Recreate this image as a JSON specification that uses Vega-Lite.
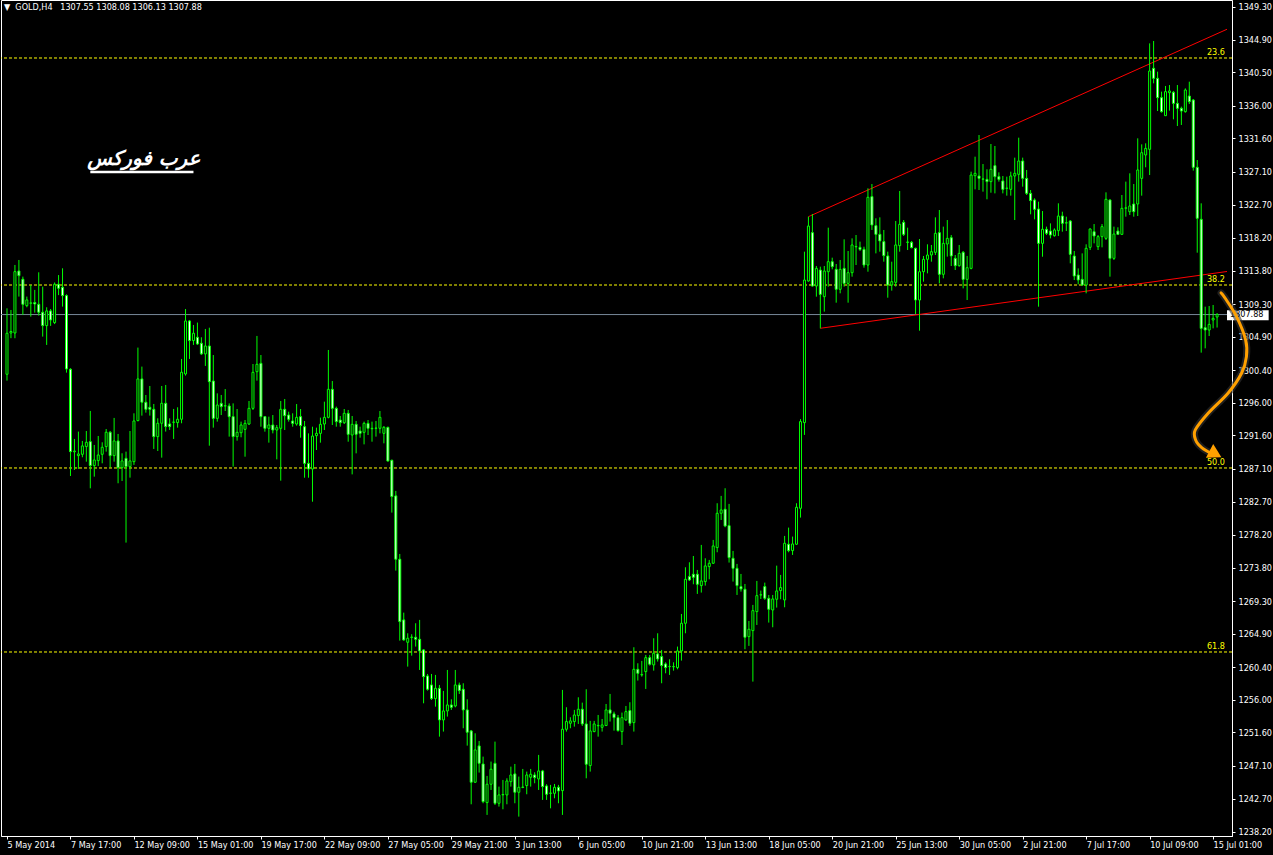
{
"$schema":"https://vega.github.io/schema/vega-lite/v6.json",
"width":1231,"height":836,
"autosize":{"type":"none"},
"padding":{"left":1,"top":0,"right":41,"bottom":19},
"background":"black",
"config":{"view":{"stroke":"white","strokeWidth":1,"fill":"black"},"font":"DejaVu Sans Condensed, DejaVu Sans","axis":{"labelOverlap":false,"labelBound":false,"labelFlush":false,"grid":false}},
"title":{"text":"▼\u00a0\u00a0GOLD,H4\u00a0\u00a0\u00a01307.55 1308.08 1306.13 1307.88","anchor":"start","frame":"group","orient":"top","offset":-12,"color":"white","fontSize":9,"fontWeight":"normal","font":"DejaVu Sans Condensed, DejaVu Sans","dx":3},
"datasets":{
"bars":[
{"i":0,"o":1299.84,"h":1308.72,"l":1298.98,"c":1305.36},
{"i":1,"o":1305.4,"h":1308.5,"l":1304.7,"c":1305.6},
{"i":2,"o":1305.4,"h":1314.56,"l":1304.69,"c":1313.66},
{"i":3,"o":1313.75,"h":1315.23,"l":1310.3,"c":1313.12},
{"i":4,"o":1312.63,"h":1312.99,"l":1307.83,"c":1309.26},
{"i":5,"o":1309.08,"h":1310.3,"l":1308.86,"c":1309.85},
{"i":6,"o":1309.4,"h":1311.87,"l":1307.6,"c":1309.45},
{"i":7,"o":1309.5,"h":1311.2,"l":1308.14,"c":1309.3},
{"i":8,"o":1309.26,"h":1313.57,"l":1307.74,"c":1308.19},
{"i":9,"o":1308.19,"h":1311.64,"l":1304.91,"c":1306.39},
{"i":10,"o":1306.39,"h":1308.86,"l":1303.79,"c":1308.37},
{"i":11,"o":1308.37,"h":1308.63,"l":1306.35,"c":1307.15},
{"i":12,"o":1306.8,"h":1312.2,"l":1306.6,"c":1311.96},
{"i":13,"o":1311.96,"h":1313.2,"l":1310.5,"c":1311.42},
{"i":14,"o":1311.55,"h":1314.11,"l":1308.95,"c":1310.43},
{"i":15,"o":1310.43,"h":1310.6,"l":1300.06,"c":1300.55},
{"i":16,"o":1300.51,"h":1300.65,"l":1286.14,"c":1289.42},
{"i":17,"o":1289.4,"h":1291.13,"l":1286.95,"c":1289.5},
{"i":18,"o":1288.88,"h":1292.12,"l":1287.09,"c":1289.11},
{"i":19,"o":1289.06,"h":1290.86,"l":1288.66,"c":1290.19},
{"i":20,"o":1290.1,"h":1292.2,"l":1288.07,"c":1290.68},
{"i":21,"o":1290.77,"h":1294.9,"l":1284.48,"c":1287.54},
{"i":22,"o":1287.54,"h":1290.32,"l":1286.05,"c":1288.3},
{"i":23,"o":1288.21,"h":1291.53,"l":1287.49,"c":1288.97},
{"i":24,"o":1289.06,"h":1290.68,"l":1287.85,"c":1290.01},
{"i":25,"o":1290.1,"h":1292.47,"l":1289.42,"c":1292.03},
{"i":26,"o":1292.03,"h":1292.2,"l":1287.27,"c":1288.88},
{"i":27,"o":1288.88,"h":1293.96,"l":1288.07,"c":1290.86},
{"i":28,"o":1290.86,"h":1291.8,"l":1285.16,"c":1287.27},
{"i":29,"o":1287.27,"h":1289.2,"l":1285.47,"c":1288.17},
{"i":30,"o":1288.52,"h":1289.42,"l":1277.17,"c":1287.4},
{"i":31,"o":1287.4,"h":1292.2,"l":1285.92,"c":1288.17},
{"i":32,"o":1288.07,"h":1294.58,"l":1287.63,"c":1293.55},
{"i":33,"o":1293.6,"h":1303.43,"l":1293.5,"c":1299.21},
{"i":34,"o":1299.21,"h":1300.87,"l":1294.27,"c":1296.07},
{"i":35,"o":1296.07,"h":1297.05,"l":1294.67,"c":1295.12},
{"i":36,"o":1295.39,"h":1298.26,"l":1294.27,"c":1295.12},
{"i":37,"o":1295.12,"h":1295.84,"l":1289.78,"c":1291.44},
{"i":38,"o":1291.44,"h":1293.91,"l":1289.51,"c":1293.24},
{"i":39,"o":1293.24,"h":1298.26,"l":1288.61,"c":1295.93},
{"i":40,"o":1295.93,"h":1298.4,"l":1292.12,"c":1292.79},
{"i":41,"o":1293.15,"h":1293.91,"l":1292.34,"c":1292.79},
{"i":42,"o":1293.37,"h":1295.17,"l":1291.13,"c":1293.4},
{"i":43,"o":1293.33,"h":1295.39,"l":1292.65,"c":1293.78},
{"i":44,"o":1293.78,"h":1301.9,"l":1293.24,"c":1300.11},
{"i":45,"o":1299.88,"h":1308.63,"l":1299.66,"c":1307.02},
{"i":46,"o":1307.02,"h":1307.15,"l":1301.9,"c":1304.37},
{"i":47,"o":1304.37,"h":1306.48,"l":1303.79,"c":1305.36},
{"i":48,"o":1304.82,"h":1306.8,"l":1303.79,"c":1303.92},
{"i":49,"o":1304.01,"h":1304.82,"l":1302.44,"c":1302.58},
{"i":50,"o":1302.58,"h":1305.94,"l":1300.96,"c":1303.65},
{"i":51,"o":1303.65,"h":1306.11,"l":1290.22,"c":1298.84},
{"i":52,"o":1298.93,"h":1302.43,"l":1292.65,"c":1293.9},
{"i":53,"o":1293.9,"h":1297.27,"l":1293.46,"c":1295.7},
{"i":54,"o":1295.92,"h":1297.05,"l":1294.35,"c":1295.48},
{"i":55,"o":1295.57,"h":1297.85,"l":1294.89,"c":1295.6},
{"i":56,"o":1295.57,"h":1295.92,"l":1291.44,"c":1294.13},
{"i":57,"o":1294.13,"h":1295.92,"l":1287.4,"c":1291.44},
{"i":58,"o":1291.44,"h":1295.16,"l":1290.9,"c":1292.02},
{"i":59,"o":1291.97,"h":1293.46,"l":1291.35,"c":1293.01},
{"i":60,"o":1292.42,"h":1293.68,"l":1288.74,"c":1293.23},
{"i":61,"o":1293.14,"h":1296.24,"l":1293.01,"c":1295.25},
{"i":62,"o":1295.25,"h":1301.22,"l":1295.03,"c":1300.1},
{"i":63,"o":1300.19,"h":1305.0,"l":1298.98,"c":1301.18},
{"i":64,"o":1301.31,"h":1302.43,"l":1292.78,"c":1294.13},
{"i":65,"o":1294.13,"h":1294.22,"l":1292.11,"c":1292.56},
{"i":66,"o":1292.56,"h":1294.13,"l":1290.63,"c":1293.01},
{"i":67,"o":1293.01,"h":1294.35,"l":1291.88,"c":1292.33},
{"i":68,"o":1292.33,"h":1293.01,"l":1288.38,"c":1292.65},
{"i":69,"o":1292.56,"h":1296.24,"l":1285.51,"c":1295.12},
{"i":70,"o":1295.12,"h":1296.51,"l":1292.33,"c":1294.26},
{"i":71,"o":1294.35,"h":1294.8,"l":1293.46,"c":1293.77},
{"i":72,"o":1293.55,"h":1294.58,"l":1292.78,"c":1293.23},
{"i":73,"o":1293.14,"h":1295.83,"l":1292.92,"c":1294.04},
{"i":74,"o":1294.13,"h":1295.16,"l":1291.3,"c":1292.92},
{"i":75,"o":1292.78,"h":1293.55,"l":1285.91,"c":1287.84},
{"i":76,"o":1287.84,"h":1291.88,"l":1285.91,"c":1287.08},
{"i":77,"o":1287.08,"h":1292.78,"l":1282.68,"c":1291.52},
{"i":78,"o":1291.57,"h":1292.65,"l":1289.64,"c":1291.88},
{"i":79,"o":1291.88,"h":1294.0,"l":1290.63,"c":1293.1},
{"i":80,"o":1293.14,"h":1296.15,"l":1292.33,"c":1294.04},
{"i":81,"o":1294.04,"h":1303.11,"l":1293.9,"c":1297.81},
{"i":82,"o":1297.81,"h":1298.93,"l":1293.01,"c":1295.25},
{"i":83,"o":1295.25,"h":1295.48,"l":1292.78,"c":1293.46},
{"i":84,"o":1293.68,"h":1294.22,"l":1292.78,"c":1293.32},
{"i":85,"o":1293.32,"h":1295.16,"l":1293.14,"c":1294.58},
{"i":86,"o":1294.58,"h":1295.03,"l":1290.76,"c":1291.75},
{"i":87,"o":1291.66,"h":1294.22,"l":1286.36,"c":1293.1},
{"i":88,"o":1293.1,"h":1293.55,"l":1289.19,"c":1291.75},
{"i":89,"o":1292.2,"h":1292.78,"l":1291.3,"c":1291.88},
{"i":90,"o":1292.02,"h":1293.46,"l":1290.4,"c":1293.23},
{"i":91,"o":1293.23,"h":1293.68,"l":1291.66,"c":1292.56},
{"i":92,"o":1292.56,"h":1293.46,"l":1290.76,"c":1292.5},
{"i":93,"o":1292.56,"h":1293.55,"l":1291.44,"c":1292.6},
{"i":94,"o":1292.56,"h":1294.89,"l":1291.88,"c":1294.04},
{"i":95,"o":1291.88,"h":1292.87,"l":1290.54,"c":1292.69},
{"i":96,"o":1292.69,"h":1292.78,"l":1288.07,"c":1288.16},
{"i":97,"o":1288.25,"h":1288.35,"l":1281.21,"c":1283.37},
{"i":98,"o":1283.46,"h":1284.13,"l":1273.4,"c":1274.93},
{"i":99,"o":1274.93,"h":1275.64,"l":1263.97,"c":1266.53},
{"i":100,"o":1266.76,"h":1267.74,"l":1263.97,"c":1264.06},
{"i":101,"o":1263.75,"h":1264.96,"l":1260.47,"c":1264.29},
{"i":102,"o":1264.4,"h":1264.83,"l":1261.95,"c":1264.45},
{"i":103,"o":1264.42,"h":1266.31,"l":1263.17,"c":1264.15},
{"i":104,"o":1264.15,"h":1266.76,"l":1260.02,"c":1262.58},
{"i":105,"o":1262.72,"h":1262.8,"l":1255.53,"c":1259.12},
{"i":106,"o":1259.21,"h":1259.48,"l":1257.24,"c":1257.42},
{"i":107,"o":1258.0,"h":1259.48,"l":1255.98,"c":1256.16},
{"i":108,"o":1256.16,"h":1259.35,"l":1255.08,"c":1257.55},
{"i":109,"o":1257.55,"h":1258.0,"l":1251.04,"c":1253.29},
{"i":110,"o":1253.29,"h":1257.2,"l":1251.72,"c":1254.5},
{"i":111,"o":1254.5,"h":1260.02,"l":1253.74,"c":1255.31},
{"i":112,"o":1255.31,"h":1256.07,"l":1254.64,"c":1254.99},
{"i":113,"o":1255.17,"h":1260.02,"l":1254.99,"c":1258.0},
{"i":114,"o":1258.0,"h":1258.32,"l":1256.79,"c":1257.24},
{"i":115,"o":1257.42,"h":1258.23,"l":1252.17,"c":1254.64},
{"i":116,"o":1254.64,"h":1256.07,"l":1249.83,"c":1251.63},
{"i":117,"o":1251.81,"h":1251.94,"l":1241.93,"c":1244.9},
{"i":118,"o":1244.9,"h":1251.49,"l":1244.8,"c":1249.25},
{"i":119,"o":1249.79,"h":1250.46,"l":1246.2,"c":1247.45},
{"i":120,"o":1247.36,"h":1248.35,"l":1242.07,"c":1242.29},
{"i":121,"o":1242.16,"h":1245.75,"l":1240.5,"c":1244.63},
{"i":122,"o":1244.63,"h":1247.68,"l":1243.86,"c":1246.65},
{"i":123,"o":1247.45,"h":1250.37,"l":1241.84,"c":1242.07},
{"i":124,"o":1242.07,"h":1244.31,"l":1241.62,"c":1243.19},
{"i":125,"o":1243.2,"h":1245.21,"l":1241.26,"c":1243.25},
{"i":126,"o":1243.19,"h":1245.43,"l":1241.93,"c":1245.07},
{"i":127,"o":1244.98,"h":1247.0,"l":1244.31,"c":1245.88},
{"i":128,"o":1246.02,"h":1247.36,"l":1242.07,"c":1243.55},
{"i":129,"o":1243.55,"h":1245.66,"l":1240.27,"c":1244.22},
{"i":130,"o":1244.2,"h":1246.69,"l":1244.1,"c":1244.25},
{"i":131,"o":1244.45,"h":1246.33,"l":1243.28,"c":1245.88},
{"i":132,"o":1245.57,"h":1246.69,"l":1244.31,"c":1245.97},
{"i":133,"o":1245.88,"h":1246.24,"l":1244.76,"c":1245.52},
{"i":134,"o":1245.34,"h":1248.58,"l":1243.86,"c":1246.42},
{"i":135,"o":1246.42,"h":1246.56,"l":1242.52,"c":1244.31},
{"i":136,"o":1244.4,"h":1244.63,"l":1242.52,"c":1243.28},
{"i":137,"o":1243.4,"h":1244.54,"l":1241.39,"c":1243.45},
{"i":138,"o":1243.41,"h":1244.67,"l":1242.74,"c":1244.22},
{"i":139,"o":1244.22,"h":1244.54,"l":1242.07,"c":1243.73},
{"i":140,"o":1243.77,"h":1257.33,"l":1240.5,"c":1252.03},
{"i":141,"o":1252.03,"h":1255.0,"l":1251.72,"c":1253.07},
{"i":142,"o":1252.84,"h":1253.65,"l":1252.17,"c":1253.16},
{"i":143,"o":1253.07,"h":1254.64,"l":1252.39,"c":1253.96},
{"i":144,"o":1253.87,"h":1256.34,"l":1252.75,"c":1254.73},
{"i":145,"o":1254.73,"h":1255.62,"l":1252.48,"c":1252.75},
{"i":146,"o":1252.75,"h":1257.42,"l":1245.43,"c":1247.32},
{"i":147,"o":1247.14,"h":1253.16,"l":1246.33,"c":1251.81},
{"i":148,"o":1251.72,"h":1253.16,"l":1251.63,"c":1252.75},
{"i":149,"o":1252.5,"h":1253.96,"l":1251.04,"c":1252.55},
{"i":150,"o":1252.3,"h":1253.42,"l":1251.72,"c":1252.62},
{"i":151,"o":1252.53,"h":1255.44,"l":1252.48,"c":1254.64},
{"i":152,"o":1254.64,"h":1256.79,"l":1253.07,"c":1254.19},
{"i":153,"o":1254.1,"h":1254.41,"l":1251.85,"c":1253.6},
{"i":154,"o":1253.6,"h":1253.96,"l":1251.72,"c":1251.85},
{"i":155,"o":1251.72,"h":1254.28,"l":1249.92,"c":1253.6},
{"i":156,"o":1253.29,"h":1255.17,"l":1253.16,"c":1254.41},
{"i":157,"o":1254.55,"h":1255.67,"l":1252.48,"c":1252.84},
{"i":158,"o":1252.93,"h":1263.08,"l":1251.72,"c":1260.11},
{"i":159,"o":1260.11,"h":1260.92,"l":1258.59,"c":1259.57},
{"i":160,"o":1259.35,"h":1261.24,"l":1259.12,"c":1259.4},
{"i":161,"o":1259.8,"h":1262.04,"l":1257.46,"c":1261.68},
{"i":162,"o":1261.68,"h":1262.04,"l":1260.61,"c":1260.79},
{"i":163,"o":1260.7,"h":1264.29,"l":1259.93,"c":1262.27},
{"i":164,"o":1262.18,"h":1264.96,"l":1261.15,"c":1261.5},
{"i":165,"o":1261.82,"h":1262.72,"l":1258.23,"c":1260.61},
{"i":166,"o":1260.83,"h":1261.05,"l":1259.57,"c":1260.34},
{"i":167,"o":1260.47,"h":1261.46,"l":1259.35,"c":1260.5},
{"i":168,"o":1260.47,"h":1261.05,"l":1259.93,"c":1260.45},
{"i":169,"o":1260.34,"h":1263.17,"l":1260.11,"c":1262.58},
{"i":170,"o":1262.58,"h":1267.56,"l":1261.28,"c":1266.31},
{"i":171,"o":1266.31,"h":1273.85,"l":1264.96,"c":1272.23},
{"i":172,"o":1272.59,"h":1274.52,"l":1272.01,"c":1272.14},
{"i":173,"o":1272.91,"h":1275.37,"l":1271.56,"c":1272.5},
{"i":174,"o":1272.91,"h":1273.49,"l":1270.26,"c":1271.56},
{"i":175,"o":1271.38,"h":1276.86,"l":1270.44,"c":1272.01},
{"i":176,"o":1271.92,"h":1275.06,"l":1271.38,"c":1274.03},
{"i":177,"o":1273.94,"h":1274.84,"l":1272.23,"c":1274.39},
{"i":178,"o":1274.39,"h":1277.53,"l":1274.3,"c":1276.72},
{"i":179,"o":1276.5,"h":1282.47,"l":1275.87,"c":1281.12},
{"i":180,"o":1281.12,"h":1283.46,"l":1280.22,"c":1281.57},
{"i":181,"o":1281.66,"h":1284.49,"l":1279.24,"c":1279.41},
{"i":182,"o":1279.46,"h":1282.38,"l":1274.48,"c":1275.15},
{"i":183,"o":1275.06,"h":1276.05,"l":1271.92,"c":1273.71},
{"i":184,"o":1273.71,"h":1274.3,"l":1270.12,"c":1271.38},
{"i":185,"o":1271.25,"h":1272.95,"l":1270.57,"c":1270.93},
{"i":186,"o":1270.89,"h":1271.6,"l":1262.81,"c":1264.42},
{"i":187,"o":1264.51,"h":1266.62,"l":1263.26,"c":1265.5},
{"i":188,"o":1265.32,"h":1268.78,"l":1258.45,"c":1268.01},
{"i":189,"o":1267.88,"h":1272.01,"l":1266.08,"c":1270.03},
{"i":190,"o":1270.12,"h":1270.71,"l":1269.58,"c":1270.15},
{"i":191,"o":1271.25,"h":1271.78,"l":1269.45,"c":1269.67},
{"i":192,"o":1269.67,"h":1270.12,"l":1266.4,"c":1268.19},
{"i":193,"o":1268.1,"h":1270.12,"l":1265.77,"c":1269.58},
{"i":194,"o":1269.54,"h":1274.07,"l":1268.42,"c":1270.66},
{"i":195,"o":1270.71,"h":1272.82,"l":1269.54,"c":1271.11},
{"i":196,"o":1269.45,"h":1278.07,"l":1268.46,"c":1277.08},
{"i":197,"o":1276.95,"h":1279.19,"l":1275.87,"c":1276.09},
{"i":198,"o":1276.09,"h":1277.98,"l":1275.51,"c":1276.99},
{"i":199,"o":1276.95,"h":1282.47,"l":1276.86,"c":1281.93},
{"i":200,"o":1281.79,"h":1293.8,"l":1280.54,"c":1293.47},
{"i":201,"o":1293.33,"h":1316.35,"l":1291.67,"c":1312.53},
{"i":202,"o":1312.4,"h":1321.06,"l":1312.31,"c":1319.8},
{"i":203,"o":1318.91,"h":1321.42,"l":1311.64,"c":1311.72},
{"i":204,"o":1311.72,"h":1314.42,"l":1310.29,"c":1314.1},
{"i":205,"o":1313.88,"h":1314.33,"l":1306.02,"c":1310.6},
{"i":206,"o":1310.29,"h":1314.42,"l":1308.27,"c":1313.74},
{"i":207,"o":1313.65,"h":1319.58,"l":1311.64,"c":1315.0},
{"i":208,"o":1315.0,"h":1315.54,"l":1313.97,"c":1314.33},
{"i":209,"o":1313.97,"h":1314.69,"l":1309.48,"c":1311.28},
{"i":210,"o":1311.28,"h":1315.23,"l":1310.74,"c":1313.97},
{"i":211,"o":1314.1,"h":1318.01,"l":1311.64,"c":1312.08},
{"i":212,"o":1312.08,"h":1316.44,"l":1309.48,"c":1313.52},
{"i":213,"o":1313.52,"h":1318.14,"l":1312.98,"c":1317.25},
{"i":214,"o":1317.0,"h":1318.59,"l":1314.55,"c":1317.05},
{"i":215,"o":1316.93,"h":1317.7,"l":1316.44,"c":1316.66},
{"i":216,"o":1316.66,"h":1317.02,"l":1314.19,"c":1314.55},
{"i":217,"o":1314.55,"h":1324.88,"l":1313.65,"c":1323.67},
{"i":218,"o":1323.76,"h":1325.46,"l":1319.27,"c":1319.94},
{"i":219,"o":1319.85,"h":1320.84,"l":1316.12,"c":1318.68},
{"i":220,"o":1318.68,"h":1320.97,"l":1316.35,"c":1317.79},
{"i":221,"o":1317.7,"h":1319.27,"l":1315.0,"c":1315.81},
{"i":222,"o":1315.77,"h":1316.35,"l":1310.15,"c":1311.86},
{"i":223,"o":1311.86,"h":1315.0,"l":1311.1,"c":1312.31},
{"i":224,"o":1312.22,"h":1320.48,"l":1311.64,"c":1317.25},
{"i":225,"o":1317.16,"h":1324.52,"l":1316.35,"c":1320.03},
{"i":226,"o":1320.3,"h":1320.61,"l":1318.46,"c":1318.68},
{"i":227,"o":1317.6,"h":1319.58,"l":1316.57,"c":1317.65},
{"i":228,"o":1317.61,"h":1317.79,"l":1316.8,"c":1316.89},
{"i":229,"o":1316.8,"h":1316.89,"l":1307.95,"c":1309.84},
{"i":230,"o":1309.84,"h":1318.05,"l":1305.71,"c":1313.65},
{"i":231,"o":1313.65,"h":1315.77,"l":1312.31,"c":1315.32},
{"i":232,"o":1315.32,"h":1317.34,"l":1313.43,"c":1315.9},
{"i":233,"o":1315.9,"h":1317.25,"l":1315.0,"c":1316.35},
{"i":234,"o":1316.26,"h":1320.97,"l":1315.9,"c":1318.82},
{"i":235,"o":1318.91,"h":1321.96,"l":1312.08,"c":1313.3},
{"i":236,"o":1313.3,"h":1319.72,"l":1312.76,"c":1317.47},
{"i":237,"o":1317.38,"h":1320.61,"l":1315.68,"c":1318.14},
{"i":238,"o":1318.23,"h":1318.59,"l":1314.42,"c":1315.77},
{"i":239,"o":1315.45,"h":1315.9,"l":1313.88,"c":1314.46},
{"i":240,"o":1314.46,"h":1317.25,"l":1314.33,"c":1316.12},
{"i":241,"o":1316.26,"h":1316.44,"l":1311.41,"c":1312.62},
{"i":242,"o":1312.62,"h":1315.77,"l":1309.84,"c":1314.19},
{"i":243,"o":1314.1,"h":1327.12,"l":1313.97,"c":1326.67},
{"i":244,"o":1326.58,"h":1329.14,"l":1324.74,"c":1326.9},
{"i":245,"o":1326.54,"h":1332.06,"l":1324.65,"c":1326.22},
{"i":246,"o":1326.1,"h":1328.15,"l":1324.43,"c":1326.15},
{"i":247,"o":1326.09,"h":1327.44,"l":1323.4,"c":1325.78},
{"i":248,"o":1325.78,"h":1330.85,"l":1324.29,"c":1327.44},
{"i":249,"o":1327.93,"h":1330.58,"l":1324.2,"c":1326.45},
{"i":250,"o":1326.45,"h":1327.03,"l":1325.78,"c":1326.09},
{"i":251,"o":1325.87,"h":1326.54,"l":1324.2,"c":1324.74},
{"i":252,"o":1324.88,"h":1326.45,"l":1323.89,"c":1324.9},
{"i":253,"o":1324.74,"h":1327.12,"l":1323.89,"c":1326.54},
{"i":254,"o":1326.54,"h":1329.01,"l":1320.61,"c":1326.9},
{"i":255,"o":1326.76,"h":1331.7,"l":1325.78,"c":1328.56},
{"i":256,"o":1328.56,"h":1329.01,"l":1325.1,"c":1326.22},
{"i":257,"o":1326.22,"h":1327.35,"l":1323.98,"c":1324.2},
{"i":258,"o":1324.2,"h":1324.65,"l":1321.38,"c":1323.22},
{"i":259,"o":1323.31,"h":1323.53,"l":1320.7,"c":1322.05},
{"i":260,"o":1322.09,"h":1323.08,"l":1308.94,"c":1317.47},
{"i":261,"o":1317.47,"h":1321.82,"l":1315.67,"c":1319.36},
{"i":262,"o":1319.36,"h":1319.72,"l":1318.59,"c":1318.82},
{"i":263,"o":1319.13,"h":1320.16,"l":1318.14,"c":1318.59},
{"i":264,"o":1318.5,"h":1319.49,"l":1318.37,"c":1319.27},
{"i":265,"o":1319.18,"h":1322.86,"l":1318.46,"c":1321.15},
{"i":266,"o":1321.15,"h":1321.73,"l":1319.04,"c":1320.16},
{"i":267,"o":1320.2,"h":1321.06,"l":1319.13,"c":1320.25},
{"i":268,"o":1320.48,"h":1320.61,"l":1314.78,"c":1315.99},
{"i":269,"o":1315.76,"h":1316.44,"l":1312.53,"c":1313.07},
{"i":270,"o":1313.21,"h":1314.1,"l":1311.95,"c":1312.53},
{"i":271,"o":1312.62,"h":1316.12,"l":1311.73,"c":1311.86},
{"i":272,"o":1311.86,"h":1317.34,"l":1310.74,"c":1316.8},
{"i":273,"o":1316.93,"h":1319.49,"l":1316.57,"c":1319.4},
{"i":274,"o":1319.04,"h":1320.07,"l":1317.47,"c":1318.46},
{"i":275,"o":1317.02,"h":1318.59,"l":1316.57,"c":1318.37},
{"i":276,"o":1318.37,"h":1320.07,"l":1316.93,"c":1319.72},
{"i":277,"o":1318.14,"h":1324.34,"l":1317.92,"c":1323.4},
{"i":278,"o":1323.31,"h":1323.4,"l":1312.98,"c":1315.45},
{"i":279,"o":1315.45,"h":1319.72,"l":1315.23,"c":1318.73},
{"i":280,"o":1319.13,"h":1319.63,"l":1318.59,"c":1318.68},
{"i":281,"o":1318.68,"h":1323.98,"l":1318.59,"c":1322.18},
{"i":282,"o":1322.2,"h":1325.78,"l":1321.06,"c":1322.25},
{"i":283,"o":1321.73,"h":1326.9,"l":1321.29,"c":1322.5},
{"i":284,"o":1322.77,"h":1325.46,"l":1321.06,"c":1321.73},
{"i":285,"o":1322.77,"h":1331.61,"l":1321.15,"c":1327.35},
{"i":286,"o":1326.22,"h":1330.8,"l":1323.89,"c":1329.68},
{"i":287,"o":1329.37,"h":1330.94,"l":1327.71,"c":1330.26},
{"i":288,"o":1330.13,"h":1344.4,"l":1326.67,"c":1340.68},
{"i":289,"o":1341.04,"h":1344.72,"l":1339.02,"c":1339.69},
{"i":290,"o":1339.69,"h":1340.59,"l":1335.29,"c":1337.09},
{"i":291,"o":1337.09,"h":1337.9,"l":1335.07,"c":1335.2},
{"i":292,"o":1334.66,"h":1338.66,"l":1334.66,"c":1337.9},
{"i":293,"o":1337.76,"h":1338.79,"l":1335.34,"c":1337.99},
{"i":294,"o":1337.81,"h":1337.99,"l":1334.17,"c":1336.32},
{"i":295,"o":1336.32,"h":1338.79,"l":1333.27,"c":1335.65},
{"i":296,"o":1335.65,"h":1335.88,"l":1333.41,"c":1335.29},
{"i":297,"o":1335.2,"h":1338.34,"l":1335.07,"c":1338.12},
{"i":298,"o":1337.31,"h":1339.24,"l":1336.23,"c":1336.55},
{"i":299,"o":1336.77,"h":1336.91,"l":1327.26,"c":1327.71},
{"i":300,"o":1327.71,"h":1328.69,"l":1316.21,"c":1320.84},
{"i":301,"o":1320.7,"h":1322.86,"l":1302.75,"c":1306.02},
{"i":302,"o":1306.11,"h":1308.94,"l":1303.33,"c":1305.8},
{"i":303,"o":1305.8,"h":1309.03,"l":1304.99,"c":1306.56},
{"i":304,"o":1307.15,"h":1309.17,"l":1306.02,"c":1307.37},
{"i":305,"o":1307.55,"h":1308.08,"l":1306.13,"c":1307.88}
],
"fib":[{"lvl":"23.6","p":1342.43},{"lvl":"38.2","p":1311.86},{"lvl":"50.0","p":1287.22},{"lvl":"61.8","p":1262.44}],
"trend":[{"a":202,"pa":1321.06,"b":307.5,"pb":1346.3},{"a":205,"pa":1306.03,"b":307.5,"pb":1313.68}],
"arrow":[
{"k":0,"i":306.0,"p":1310.79},{"k":1,"i":307.0,"p":1310.11},{"k":2,"i":309.9,"p":1307.6},{"k":3,"i":312.2,"p":1304.46},{"k":4,"i":312.4,"p":1302.21},{"k":5,"i":311.2,"p":1300.01},{"k":6,"i":307.8,"p":1297.32},{"k":7,"i":302.8,"p":1294.63},{"k":8,"i":299.5,"p":1292.34},{"k":9,"i":299.6,"p":1290.99},{"k":10,"i":301.2,"p":1289.92},{"k":11,"i":303.5,"p":1289.2}
],
"bid":[{"p":1307.88,"t":"1307.88","top":1308.45,"bot":1307.1}],
"logo":[{"t":"عرب فوركس"}]
},
"layer":[
{"data":{"name":"fib"},"mark":{"type":"rule","color":"#FFFF00","strokeDash":[3,2],"strokeWidth":1},
 "encoding":{"y":{"field":"p","type":"quantitative","scale":{"domain":[1237.66,1350.24],"nice":false,"zero":false},
  "axis":{"orient":"right","values":[1349.3,1344.9,1340.5,1336.0,1331.6,1327.1,1322.7,1318.2,1313.8,1309.3,1304.9,1300.4,1296.0,1291.6,1287.1,1282.7,1278.2,1273.8,1269.3,1264.9,1260.4,1256.0,1251.6,1247.1,1242.7,1238.2],"tickCount":40,"format":".2f","labelColor":"white","tickColor":"white","domainColor":"white","tickSize":3,"labelPadding":3,"labelFontSize":9,"labelFont":"DejaVu Sans Condensed, DejaVu Sans","grid":false,"title":null,"labelOverlap":false,"labelBound":false,"labelFlush":false}}}},
{"data":{"name":"bid"},"mark":{"type":"rule","color":"#778899","strokeWidth":1},"encoding":{"y":{"field":"p","type":"quantitative"}}},
{"data":{"name":"trend"},"mark":{"type":"rule","color":"#FF0000","strokeWidth":1},
 "encoding":{"x":{"field":"a","type":"quantitative","scale":{"domain":[-0.25,307.5],"nice":false,"zero":false},
  "axis":{"orient":"bottom","values":[0,16,32,48,64,80,96,112,128,144,160,176,192,208,224,240,256,272,288,304],"tickCount":40,"labelExpr":"['5 May 2014','7 May 17:00','12 May 09:00','15 May 01:00','19 May 17:00','22 May 09:00','27 May 05:00','29 May 21:00','3 Jun 13:00','6 Jun 05:00','10 Jun 21:00','13 Jun 13:00','18 Jun 05:00','20 Jun 21:00','25 Jun 13:00','30 Jun 05:00','2 Jul 21:00','7 Jul 17:00','10 Jul 09:00','15 Jul 01:00'][round(datum.value/16)]","labelAlign":"left","labelBaseline":"top","labelPadding":1,"tickSize":3,"labelColor":"white","tickColor":"white","domainColor":"white","grid":false,"title":null,"labelFontSize":9,"labelFont":"DejaVu Sans Condensed, DejaVu Sans","labelOverlap":false,"labelFlush":false,"labelBound":false}},
  "x2":{"field":"b"},"y":{"field":"pa","type":"quantitative"},"y2":{"field":"pb"}}},
{"data":{"name":"bars"},"mark":{"type":"rule","color":"#00FF00","strokeWidth":1},
 "encoding":{"x":{"field":"i","type":"quantitative"},"y":{"field":"l","type":"quantitative"},"y2":{"field":"h"}}},
{"data":{"name":"bars"},"mark":{"type":"bar","size":2,"stroke":"#00FF00","strokeWidth":1},
 "encoding":{"x":{"field":"i","type":"quantitative"},"y":{"field":"o","type":"quantitative"},"y2":{"field":"c"},
  "fill":{"condition":{"test":"datum.o > datum.c","value":"white"},"value":"black"}}},
{"data":{"name":"bid"},"mark":{"type":"rect","fill":"white"},"encoding":{"x":{"datum":307.5,"type":"quantitative"},"x2":{"datum":318},"y":{"field":"top","type":"quantitative"},"y2":{"field":"bot"}}},
{"data":{"name":"bid"},"mark":{"type":"text","color":"black","align":"left","baseline":"middle","dx":3,"dy":-0.5,"fontSize":9,"font":"DejaVu Sans Condensed, DejaVu Sans"},"encoding":{"x":{"datum":307.5,"type":"quantitative"},"y":{"field":"p","type":"quantitative"},"text":{"field":"t"}}},
{"data":{"name":"arrow"},"mark":{"type":"line","color":"#333333","strokeWidth":7,"opacity":0.6,"interpolate":"cardinal","strokeCap":"round"},
 "encoding":{"x":{"field":"i","type":"quantitative"},"y":{"field":"p","type":"quantitative"},"order":{"field":"k"}}},
{"data":{"name":"arrow"},"mark":{"type":"line","color":"#FFA000","strokeWidth":3,"interpolate":"cardinal","strokeCap":"round"},
 "encoding":{"x":{"field":"i","type":"quantitative"},"y":{"field":"p","type":"quantitative"},"order":{"field":"k"}}},
{"data":{"name":"bid"},"mark":{"type":"point","shape":"triangle-right","filled":true,"color":"#FFA000","size":240,"angle":28,"opacity":1},
 "encoding":{"x":{"datum":304.6,"type":"quantitative"},"y":{"datum":1289.1,"type":"quantitative"}}},
{"data":{"name":"fib"},"mark":{"type":"text","color":"#FFFF00","align":"right","baseline":"alphabetic","dx":-2,"dy":-3,"fontSize":9,"font":"DejaVu Sans Condensed, DejaVu Sans"},
 "encoding":{"x":{"datum":307.5,"type":"quantitative"},"y":{"field":"p","type":"quantitative"},"text":{"field":"lvl"}}},
{"data":{"name":"logo"},"mark":{"type":"text","color":"white","fontSize":20,"fontWeight":"bold","fontStyle":"italic","font":"DejaVu Sans","align":"center","baseline":"alphabetic"},
 "encoding":{"x":{"datum":34.5,"type":"quantitative"},"y":{"datum":1328.0,"type":"quantitative"},"text":{"field":"t"}}},
{"data":{"name":"logo"},"mark":{"type":"rule","color":"white","strokeWidth":2.5},
 "encoding":{"x":{"datum":21,"type":"quantitative"},"x2":{"datum":47},"y":{"datum":1327.08,"type":"quantitative"}}}
]
}
